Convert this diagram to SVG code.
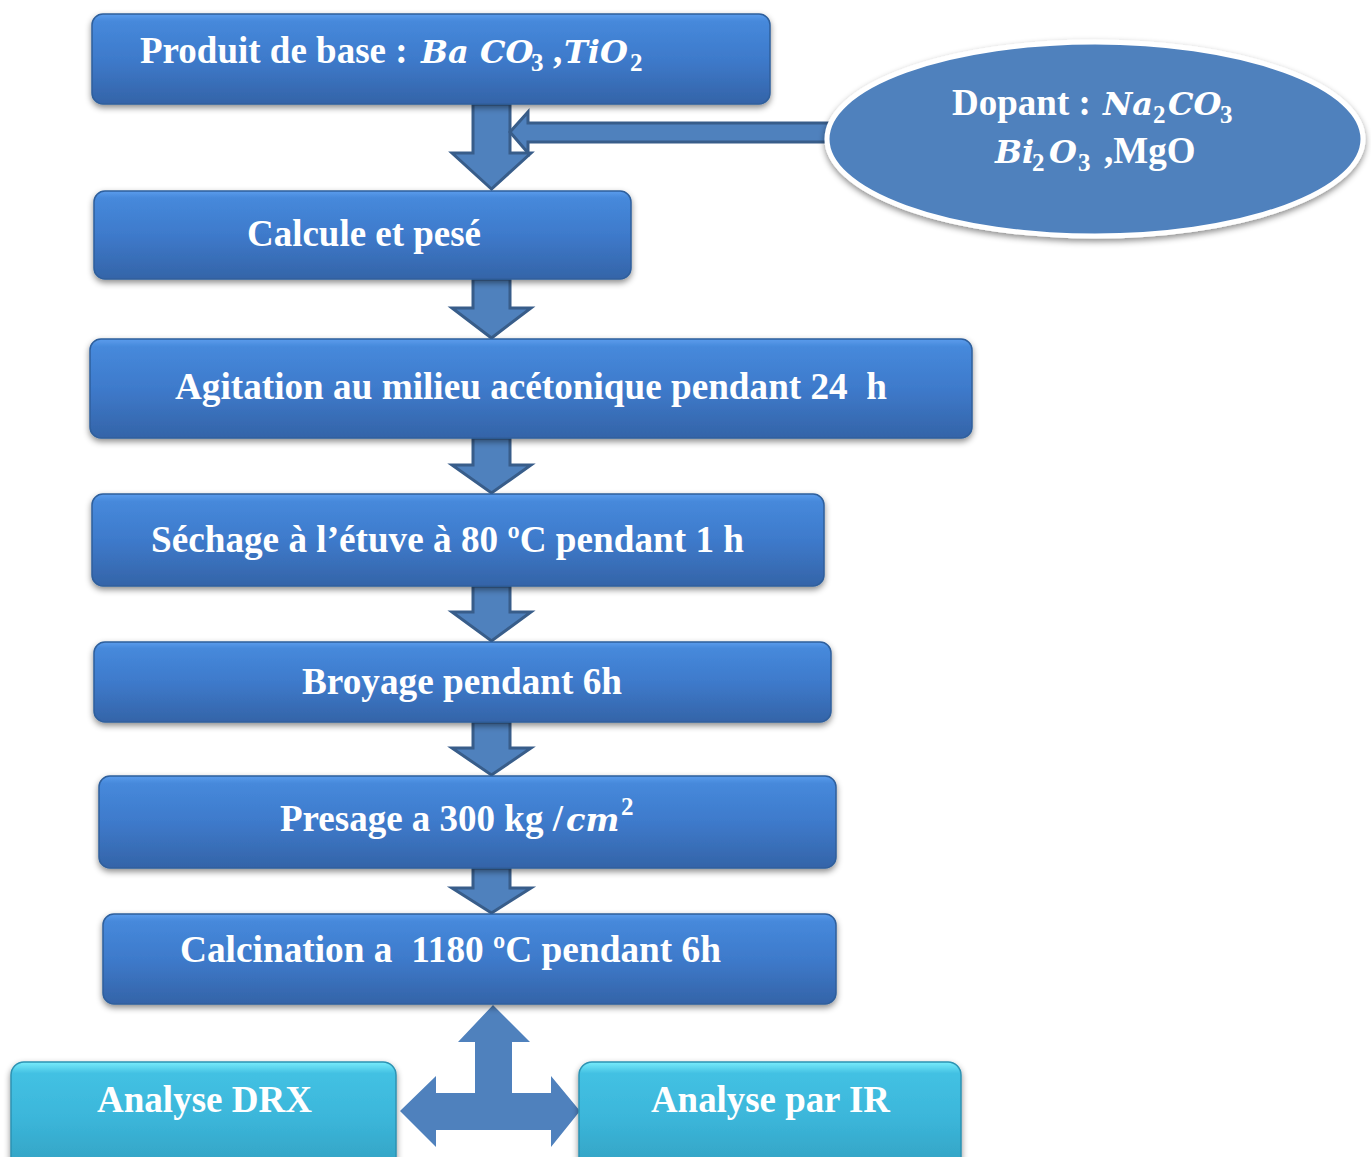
<svg xmlns="http://www.w3.org/2000/svg" width="1371" height="1157" viewBox="0 0 1371 1157">
<defs>
<linearGradient id="gb" x1="0" y1="0" x2="0" y2="1">
<stop offset="0" stop-color="#5b9cec"/>
<stop offset="0.08" stop-color="#4689db"/>
<stop offset="0.5" stop-color="#3e7acb"/>
<stop offset="1" stop-color="#3464a8"/>
</linearGradient>
<linearGradient id="gc" x1="0" y1="0" x2="0" y2="1">
<stop offset="0" stop-color="#78ecfb"/>
<stop offset="0.1" stop-color="#43c1e3"/>
<stop offset="0.5" stop-color="#3bb6da"/>
<stop offset="1" stop-color="#33a0c0"/>
</linearGradient>
<filter id="sh" x="-5%" y="-10%" width="110%" height="130%">
<feDropShadow dx="0" dy="3" stdDeviation="3" flood-color="#000" flood-opacity="0.45"/>
</filter>
</defs>
<style>
.box{fill:url(#gb);stroke:#2f5f9c;stroke-width:1.5;filter:url(#sh)}
.cbox{fill:url(#gc);stroke:#2d93b3;stroke-width:1.5;filter:url(#sh)}
.arr{fill:#4f81bd;stroke:#385d8a;stroke-width:3}
.t{font-family:"Liberation Serif","Times New Roman",serif;font-weight:bold;font-size:37px;fill:#fff;white-space:pre}
.m{font-family:"DejaVu Serif","Liberation Serif",serif;font-weight:bold;font-style:italic;font-size:32px}
.s{font-family:"Liberation Serif","Times New Roman",serif;font-weight:bold;font-style:normal;font-size:25px}
.n{font-family:"Liberation Serif","Times New Roman",serif;font-weight:bold;font-style:normal;font-size:37px}
</style>
<rect width="1371" height="1157" fill="#fff"/>
<g id="connectors">
<polygon class="arr" points="473,104 510,104 510,153 531,153 491.5,189 452,153 473,153"/>
<polygon class="arr" points="510,132 528,112 528,123 840,123 840,142 528,142 528,153"/>
<polygon class="arr" points="473,279 510,279 510,308 531,308 491.5,338 452,308 473,308"/>
<polygon class="arr" points="473,438 510,438 510,465 531,465 491.5,493 452,465 473,465"/>
<polygon class="arr" points="473,586 510,586 510,612 531,612 491.5,641 452,612 473,612"/>
<polygon class="arr" points="473,722 510,722 510,748 531,748 491.5,775 452,748 473,748"/>
<polygon class="arr" points="473,868 510,868 510,888 531,888 491.5,913 452,888 473,888"/>
<polygon fill="#4f81bd" points="493,1005 530,1042 512,1042 512,1093 551,1093 551,1076 580,1111 551,1147 551,1130 436,1130 436,1147 400,1111 436,1076 436,1093 475,1093 475,1042 458,1042"/>
</g>
<g id="n1">
<rect class="box" x="92" y="14" width="678" height="90" rx="11"/>
<text class="t" y="63"><tspan x="140">Produit de base :</tspan><tspan class="m" x="421">Ba</tspan><tspan class="m" x="480">CO</tspan><tspan class="s" x="531" dy="8">3</tspan><tspan class="n" x="553" dy="-8">,</tspan><tspan class="m" x="564">TiO</tspan><tspan class="s" x="630" dy="8">2</tspan></text>
</g>
<g id="n_dopant">
<ellipse cx="1095" cy="139" rx="268" ry="97" fill="#4f81bd" stroke="#fff" stroke-width="5" filter="url(#sh)"/>
<text class="t" y="115"><tspan x="952">Dopant :</tspan><tspan class="m" x="1103">Na</tspan><tspan class="s" x="1153" dy="8">2</tspan><tspan class="m" x="1168" dy="-8">CO</tspan><tspan class="s" x="1220" dy="8">3</tspan></text>
<text class="t" y="163"><tspan class="m" x="995">Bi</tspan><tspan class="s" x="1032" dy="8">2</tspan><tspan class="m" x="1049" dy="-8">O</tspan><tspan class="s" x="1078" dy="8">3</tspan><tspan class="n" x="1104" dy="-8">,MgO</tspan></text>
</g>
<g id="n2">
<rect class="box" x="94" y="191" width="537" height="88" rx="11"/>
<text class="t" x="247" y="246" textLength="234" lengthAdjust="spacingAndGlyphs">Calcule et pesé</text>
</g>
<g id="n3">
<rect class="box" x="90" y="339" width="882" height="99" rx="11"/>
<text class="t" x="175" y="399" textLength="712" lengthAdjust="spacingAndGlyphs">Agitation au milieu acétonique pendant 24  h</text>
</g>
<g id="n4">
<rect class="box" x="92" y="494" width="732" height="92" rx="11"/>
<text class="t" x="151" y="552" textLength="593" lengthAdjust="spacingAndGlyphs">Séchage à l’étuve à 80 ºC pendant 1 h</text>
</g>
<g id="n5">
<rect class="box" x="94" y="642" width="737" height="80" rx="11"/>
<text class="t" x="302" y="694" textLength="320" lengthAdjust="spacingAndGlyphs">Broyage pendant 6h</text>
</g>
<g id="n6">
<rect class="box" x="99" y="776" width="737" height="92" rx="11"/>
<text class="t" y="831"><tspan x="280">Presage a 300 kg /</tspan><tspan class="m" x="566">cm</tspan><tspan class="s" x="621" dy="-16">2</tspan></text>
</g>
<g id="n7">
<rect class="box" x="103" y="914" width="733" height="90" rx="11"/>
<text class="t" x="180" y="962" textLength="541" lengthAdjust="spacingAndGlyphs">Calcination a  1180 ºC pendant 6h</text>
</g>
<g id="n_drx">
<rect class="cbox" x="11" y="1062" width="385" height="112" rx="13"/>
<text class="t" x="97" y="1112" textLength="215" lengthAdjust="spacingAndGlyphs">Analyse DRX</text>
</g>
<g id="n_ir">
<rect class="cbox" x="579" y="1062" width="382" height="112" rx="13"/>
<text class="t" x="651" y="1112" textLength="239" lengthAdjust="spacingAndGlyphs">Analyse par IR</text>
</g>
</svg>
